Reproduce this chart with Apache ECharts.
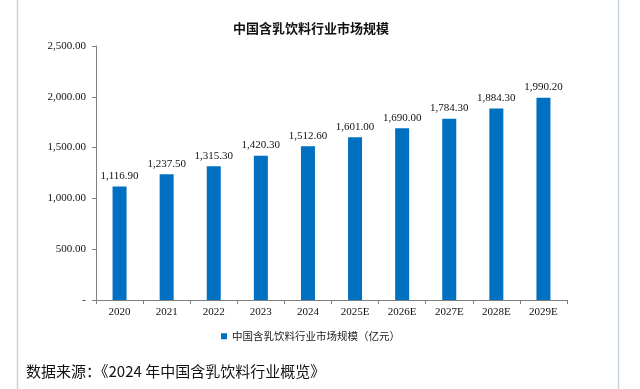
<!DOCTYPE html>
<html>
<head>
<meta charset="utf-8">
<script src="https://cdn.jsdelivr.net/npm/echarts@6/dist/echarts.min.js"></script>
<style>html,body{margin:0;padding:0;background:#fff}#c{width:640px;height:389px}</style>
</head>
<body>
<div id="c"></div>
<script>
var categories = ['2020','2021','2022','2023','2024','2025E','2026E','2027E','2028E','2029E'];
var values = [1116.90, 1237.50, 1315.30, 1420.30, 1512.60, 1601.00, 1690.00, 1784.30, 1884.30, 1990.20];
var seriesName = '中国含乳饮料行业市场规模（亿元）';
var titleText = '中国含乳饮料行业市场规模';
var sourceText = '数据来源：《2024 年中国含乳饮料行业概览》';

function fmt(v){
  if (v === 0) return '-';
  return Number(v).toLocaleString('en-US',{minimumFractionDigits:2,maximumFractionDigits:2});
}
var serif = '"Liberation Serif","DejaVu Serif",serif';
var chart = echarts.init(document.getElementById('c'));
chart.setOption({
  animation:false,
  backgroundColor:'#fff',
  title:{text:titleText,left:228,top:17,textStyle:{fontSize:13,fontWeight:'bold',color:'#111',fontFamily:'"Noto Sans CJK SC"'}},
  legend:{data:[seriesName],left:216,top:326,itemWidth:6,itemHeight:6,icon:'rect',
    textStyle:{fontSize:10.5,color:'#222',fontFamily:'"Noto Sans CJK SC"'}},
  grid:{left:96,right:73,top:46,bottom:89},
  xAxis:{type:'category',data:categories,
    axisLine:{lineStyle:{color:'#808080'}},
    axisTick:{show:true,alignWithLabel:false,length:4,lineStyle:{color:'#808080'}},
    axisLabel:{color:'#111',fontSize:11,fontFamily:serif,margin:7}},
  yAxis:{type:'value',min:0,max:2500,interval:500,
    axisLine:{show:true,lineStyle:{color:'#808080'}},
    axisTick:{show:true,length:4,lineStyle:{color:'#808080'}},
    splitLine:{show:false},
    axisLabel:{color:'#111',fontSize:11,fontFamily:serif,margin:10,formatter:fmt}},
  series:[{name:seriesName,type:'bar',data:values,barWidth:14,
    itemStyle:{color:'#0070C0'},
    label:{show:true,position:'top',distance:5,color:'#111',fontSize:11,fontFamily:serif,formatter:function(p){return fmt(p.value);}}}],
  graphic:[
    {type:'line',shape:{x1:17.5,y1:0,x2:17.5,y2:389},style:{stroke:'#c5d3de',lineWidth:1.5}},
    {type:'line',shape:{x1:618.5,y1:0,x2:618.5,y2:389},style:{stroke:'#c5d3de',lineWidth:1.5}},
    {type:'text',left:26,top:364,style:{text:sourceText,fontSize:15,fill:'#111',fontFamily:'"Noto Sans CJK SC"'}}
  ]
});
</script>
</body>
</html>
